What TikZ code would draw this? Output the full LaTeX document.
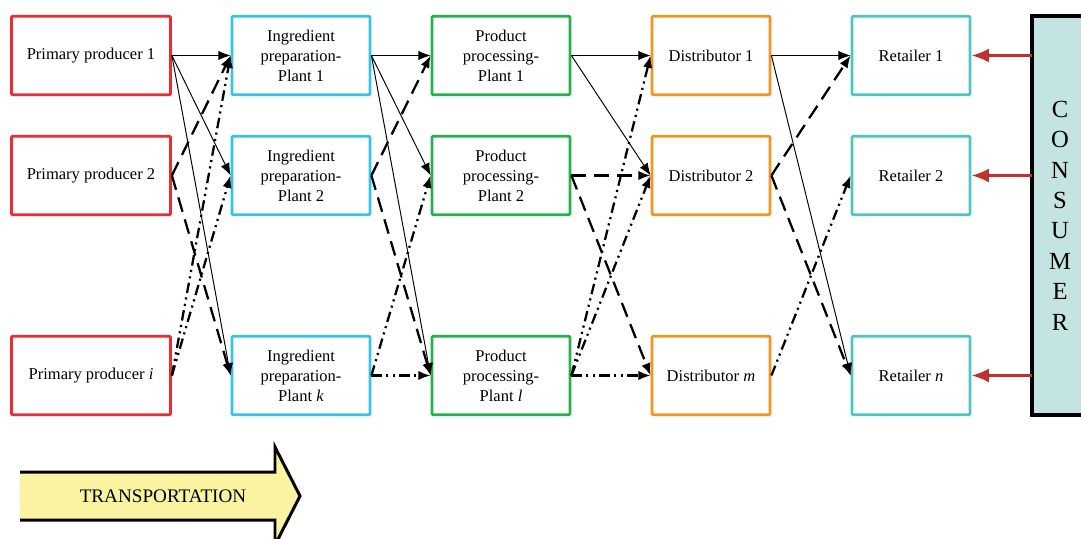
\documentclass[tikz,border=0pt]{standalone}
\usepackage{fontspec}
\setmainfont{Liberation Serif}
\usetikzlibrary{arrows.meta}
\definecolor{cred}{HTML}{EE2A33}
\definecolor{cblue}{HTML}{33C3EC}
\definecolor{cgreen}{HTML}{23B24B}
\definecolor{corange}{HTML}{F7941E}
\definecolor{cteal}{HTML}{4DC5C3}
\definecolor{cons}{HTML}{C3E4E0}
\definecolor{cyel}{HTML}{FAF3A0}
\definecolor{carrow}{HTML}{C1312D}
\tikzset{
  box/.style={draw, line width=1.6pt, rounded corners=0.6pt, inner sep=0pt, minimum height=1.57cm, align=center, font=\fontsize{9.4}{11.3}\selectfont},
  wide/.style={box, minimum width=3.18cm},
  mid/.style={box, minimum width=2.76cm},
  narrow/.style={box, minimum width=2.36cm},
  lnk/.style={-{Latex[length=7pt,width=5.4pt]}},
  sol/.style={lnk, line width=0.55pt},
  dsh/.style={lnk, line width=1.3pt, dash pattern=on 8.5pt off 4.5pt},
  ddt/.style={lnk, line width=1.3pt, dash pattern=on 6pt off 2.5pt on 1.2pt off 2.5pt on 1.2pt off 2.5pt},
  cons/.style={-{Latex[length=10pt,width=8pt]}, line width=1.6pt, draw=carrow},
}
\begin{document}
\begin{tikzpicture}[x=0.02cm,y=-0.02cm]
\useasboundingbox (0,0) rectangle (1081,538);
\clip (0,0) rectangle (1081,538);
% column 1
\node[wide, draw=cred] (p1) at (91,55.5) {Primary producer 1};
\node[wide, draw=cred] (p2) at (91,175.5) {Primary producer 2};
\node[wide, draw=cred] (pi) at (91,375.5) {Primary producer \textit{i}};
% column 2
\node[mid, draw=cblue] (i1) at (301,55.5) {Ingredient\\preparation-\\Plant 1};
\node[mid, draw=cblue] (i2) at (301,175.5) {Ingredient\\preparation-\\Plant 2};
\node[mid, draw=cblue] (ik) at (301,375.5) {Ingredient\\preparation-\\Plant \textit{k}};
% column 3
\node[mid, draw=cgreen] (r1) at (501,55.5) {Product\\processing-\\Plant 1};
\node[mid, draw=cgreen] (r2) at (501,175.5) {Product\\processing-\\Plant 2};
\node[mid, draw=cgreen] (rl) at (501,375.5) {Product\\processing-\\Plant \textit{l}};
% column 4
\node[narrow, draw=corange] (d1) at (711,55.5) {Distributor 1};
\node[narrow, draw=corange] (d2) at (711,175.5) {Distributor 2};
\node[narrow, draw=corange] (dm) at (711,375.5) {Distributor \textit{m}};
% column 5
\node[narrow, draw=cteal] (t1) at (911,55.5) {Retailer 1};
\node[narrow, draw=cteal] (t2) at (911,175.5) {Retailer 2};
\node[narrow, draw=cteal] (tn) at (911,375.5) {Retailer \textit{n}};
% consumer
\draw[line width=1.8pt, fill=cons] (1032,16) rectangle (1095,415);
\node[align=center, font=\fontsize{14}{17.3}\selectfont, inner sep=0pt] (cs) at (1060,215.5) {C\\O\\N\\S\\U\\M\\E\\R};
\coordinate (c1) at (1032,55.5);
\coordinate (c2) at (1032,175.5);
\coordinate (c3) at (1032,375.5);
% links col1->col2
\draw[sol] (p1.east) -- (i1.west);
\draw[sol] (p1.east) -- (i2.west);
\draw[sol] (p1.east) -- (ik.west);
\draw[dsh] (p2.east) -- (i1.west);
\draw[dsh] (p2.east) -- (ik.west);
\draw[ddt] (pi.east) -- (i1.west);
\draw[ddt] (pi.east) -- (i2.west);
% col2->col3
\draw[sol] (i1.east) -- (r1.west);
\draw[sol] (i1.east) -- (r2.west);
\draw[sol] (i1.east) -- (rl.west);
\draw[dsh] (i2.east) -- (r1.west);
\draw[dsh] (i2.east) -- (rl.west);
\draw[ddt] (ik.east) -- (r2.west);
\draw[ddt] (ik.east) -- (rl.west);
% col3->col4
\draw[sol] (r1.east) -- (d1.west);
\draw[sol] (r1.east) -- (d2.west);
\draw[dsh] (r2.east) -- (d2.west);
\draw[dsh] (r2.east) -- (dm.west);
\draw[ddt] (rl.east) -- (d1.west);
\draw[ddt] (rl.east) -- (d2.west);
\draw[ddt] (rl.east) -- (dm.west);
% col4->col5
\draw[sol] (d1.east) -- (t1.west);
\draw[sol] (d1.east) -- (tn.west);
\draw[dsh] (d2.east) -- (t1.west);
\draw[dsh] (d2.east) -- (tn.west);
\draw[ddt] (dm.east) -- (t2.west);
% consumer arrows
\draw[cons] (c1) -- (t1.east);
\draw[cons] (c2) -- (t2.east);
\draw[cons] (c3) -- (tn.east);
% transportation arrow
\fill[cyel] (20,472) -- (275,472) -- (275,447) -- (300,496) -- (275,545) -- (275,520) -- (20,520) -- cycle;
\draw[line width=1.7pt, line join=miter] (20,472) -- (275,472) -- (275,447) -- (300,496) -- (275,545) -- (275,520) -- (20,520);
\node[font=\fontsize{10.9}{13}\selectfont, inner sep=0pt] (tr) at (163,496) {TRANSPORTATION};
\end{tikzpicture}
\end{document}
